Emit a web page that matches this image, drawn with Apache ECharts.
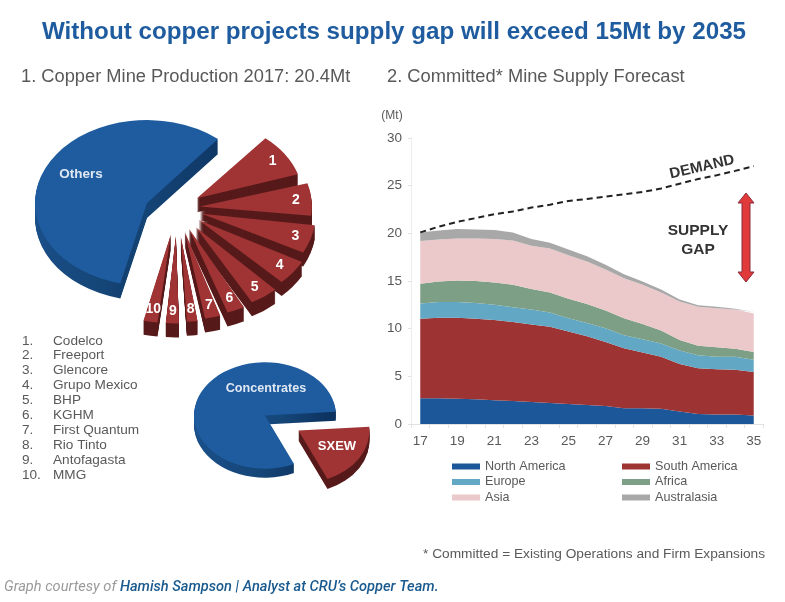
<!DOCTYPE html>
<html><head><meta charset="utf-8">
<style>html,body{margin:0;padding:0;background:#fff}#c{width:785px;height:602px}</style>
<script src="https://cdn.jsdelivr.net/npm/echarts@6/dist/echarts.min.js"></script>
</head><body><div id="c"></div>
<script>
const years = ['17','18','19','20','21','22','23','24','25','26','27','28','29','30','31','32','33','34','35'];
const northAmerica = [2.7,2.7,2.65,2.6,2.5,2.4,2.3,2.2,2.1,2.0,1.9,1.65,1.65,1.6,1.3,1.05,1.0,1.0,0.9];
const southAmerica = [8.35,8.45,8.5,8.45,8.4,8.3,8.15,8.0,7.6,7.2,6.7,6.3,5.85,5.45,5.0,4.8,4.75,4.7,4.55];
const europe = [1.6,1.65,1.65,1.65,1.6,1.55,1.55,1.5,1.4,1.4,1.45,1.35,1.4,1.4,1.4,1.35,1.3,1.35,1.3];
const africa = [2.05,2.15,2.25,2.3,2.35,2.35,2.15,2.1,2.05,2.0,1.85,1.8,1.6,1.35,1.1,1.0,1.0,0.85,0.8];
const asia = [4.5,4.4,4.4,4.45,4.55,4.65,4.55,4.6,4.55,4.45,4.3,4.2,4.1,4.0,4.05,4.1,4.1,4.1,4.05];
const australasia = [0.9,0.95,1.0,0.95,0.95,0.85,0.7,0.6,0.6,0.55,0.5,0.4,0.35,0.3,0.2,0.15,0.15,0.1,0.15];
const demand = [20.1,20.7,21.2,21.6,22.0,22.3,22.7,23.0,23.4,23.6,23.85,24.1,24.35,24.7,25.2,25.7,26.1,26.55,27.05];
const regionNames = ['North America','South America','Europe','Africa','Asia','Australasia'];
const regionColors = ['#1c5899','#9e3333','#62a8c5','#7d9f85','#ebc8c9','#a8a8a8'];
const producers = ['Codelco','Freeport','Glencore','Grupo Mexico','BHP','KGHM','First Quantum','Rio Tinto','Antofagasta','MMG'];
const producerShares = [9.3,6.7,5.8,5.0,4.4,2.8,2.5,1.9,2.2,2.3];
const othersShare = [57.1];
const processShares = [19.4,80.6];

const RAD = Math.PI/180;
const producerExplode = [24,23,26,27,32,30,33,39,38,36];
const producerRadius = [106,112,114,118,116,120,119,115,118,120];
const sliceTrim = 0.75*RAD;

function sector(cx,cy,r,a0,a1,ratio,dy,fill){
  return {type:'sector',x:cx,y:cy+dy,scaleY:ratio,silent:true,
    shape:{cx:0,cy:0,r:r,r0:0,startAngle:a0,endAngle:a1,clockwise:true},style:{fill:fill}};
}
function slice(cx,cy,r,a0,a1,ratio,depth,explode,top,side){
  const mid=(a0+a1)/2, x=cx+Math.cos(mid)*explode, y=cy+Math.sin(mid)*explode*ratio, kids=[];
  for(let d=depth;d>=1;d--) kids.push(sector(x,y,r,a0,a1,ratio,d,side));
  kids.push(sector(x,y,r,a0,a1,ratio,0,top));
  return {kids,x,y,mid};
}
const blueSide={type:'linear',x:0,y:0,x2:1,y2:0.3,colorStops:[{offset:0,color:'#1d5390'},{offset:.7,color:'#154678'},{offset:1,color:'#0d3360'}]};

const option={
  animation:false,
  grid:{left:411,right:22,top:138,bottom:178},
  xAxis:{type:'category',data:years,boundaryGap:true,
    axisLine:{lineStyle:{color:'#e2e2e2'}},axisTick:{show:true,alignWithLabel:false,interval:0,length:4,lineStyle:{color:'#e2e2e2'}},
    axisLabel:{interval:1,color:'#595959',fontFamily:'Liberation Sans',fontSize:13.5,margin:10}},
  yAxis:{type:'value',min:0,max:30,interval:5,splitLine:{show:false},
    axisLine:{show:true,lineStyle:{color:'#ececec'}},axisTick:{show:true,length:3,lineStyle:{color:'#e2e2e2'}},
    axisLabel:{color:'#595959',fontFamily:'Liberation Sans',fontSize:13.5,margin:9}},
  legend:[0,1].map(col=>({
    left:col?622:452,top:460,orient:'vertical',itemWidth:28,itemHeight:6,itemGap:2.5,padding:0,
    icon:'rect',data:regionNames.filter((n,i)=>i%2===col),selectedMode:false,
    textStyle:{color:'#595959',fontFamily:'Liberation Sans',fontSize:12.6,lineHeight:11,padding:[0,0,0,0]}})),
  series:[
    ...[northAmerica,southAmerica,europe,africa,asia,australasia].map((d,i)=>({
      name:regionNames[i],type:'line',stack:'supply',data:d,symbol:'none',smooth:false,
      lineStyle:{width:0},itemStyle:{color:regionColors[i]},areaStyle:{color:regionColors[i],opacity:1}})),
    {name:'Demand',type:'line',data:demand,symbol:'none',lineStyle:{color:'#222',width:2,type:[6,4]},z:5},
    {type:'custom',coordinateSystem:'none',data:producerShares.map(v=>[v]),silent:true,z:3,
      renderItem(params,api){
        const i=params.dataIndex; let a=-50.5*RAD;
        for(let k=0;k<i;k++) a+=producerShares[k]*3.6*RAD;
        const R=producerRadius[i];
        const s=slice(177,208,R,a+sliceTrim,a+api.value(0)*3.6*RAD-sliceTrim,0.74,14,producerExplode[i],'#a03434','#571a1a');
        const lr=R*0.86;
        s.kids.push({type:'text',silent:true,x:s.x+Math.cos(s.mid)*lr,y:s.y+Math.sin(s.mid)*lr*0.74,
          style:{text:String(i+1),fill:'#fff',font:'bold 14px "Liberation Sans"',textAlign:'center',textVerticalAlign:'middle'}});
        return {type:'group',children:s.kids};
      }},
    {type:'custom',coordinateSystem:'none',data:othersShare.map(v=>[v]),silent:true,z:2,
      renderItem(params,api){
        const a0=103.8*RAD, s=slice(147,203,112,a0,a0+api.value(0)*3.6*RAD,0.74,15,0,'#1f5c9f',blueSide);
        return {type:'group',children:s.kids};
      }},
    {type:'custom',coordinateSystem:'none',data:processShares.map(v=>[v]),silent:true,z:2,
      renderItem(params,api){
        const i=params.dataIndex, start=-4*RAD;
        const a0=i?start+processShares[0]*3.6*RAD:start, a1=a0+api.value(0)*3.6*RAD;
        const s=i?slice(265,415.5,71,a0,a1,0.75,9,0,'#1f5c9f',blueSide):slice(265,415.5,71,a0,a1,0.75,10,39,'#a03434','#571a1a');
        return {type:'group',children:s.kids};
      }}
  ],
  graphic:{elements:[]}
};
function txt(text,x,y,font,fill,align,extra){
  return Object.assign({type:'text',x:x,y:y,z:100,silent:true,style:{text:text,font:font,fill:fill,textAlign:align||'left',textVerticalAlign:'middle'}},extra||{});
}
const G=option.graphic.elements;
G.push(txt('Without copper projects supply gap will exceed 15Mt by 2035',394,32,'bold 24.2px "Liberation Sans"','#1f5c9f','center'));
G.push(txt('1. Copper Mine Production 2017: 20.4Mt',21,77,'18.3px "Liberation Sans"','#595959'));
G.push(txt('2. Committed* Mine Supply Forecast',387,77,'18.3px "Liberation Sans"','#595959'));
G.push(txt('(Mt)',392,116,'12px "Liberation Sans"','#595959','center'));
G.push(txt('Others',81,174,'bold 13.5px "Liberation Sans"','#dfe8f2','center'));
G.push(txt('Concentrates',266,389,'bold 12.6px "Liberation Sans"','#dfe8f2','center'));
G.push(txt('SXEW',337,446,'bold 13px "Liberation Sans"','#fff','center'));
G.push(txt('DEMAND',702,167,'bold 15px "Liberation Sans"','#333','center',{rotation:13*RAD}));
G.push(txt('SUPPLY',698,231,'bold 15.5px "Liberation Sans"','#333','center'));
G.push(txt('GAP',698,250,'bold 15.5px "Liberation Sans"','#333','center'));
G.push(txt('* Committed = Existing Operations and Firm Expansions',765,554,'13.7px "Liberation Sans"','#595959','right'));
G.push({type:'text',x:4,y:587,z:100,silent:true,style:{text:'{g|Graph courtesy of }{b|Hamish Sampson | Analyst at CRU\u2019s Copper Team.}',textVerticalAlign:'middle',
  rich:{g:{font:'italic 14.6px Roboto',fill:'#9a9a9a'},b:{font:'italic 500 14.6px Roboto',fill:'#1a5a8e'}}}});
const ys=[341,355,370,385,400,415,430,445,460,475];
producers.forEach((p,i)=>{
  G.push(txt((i+1)+'.',22,ys[i],'13.6px "Liberation Sans"','#595959'));
  G.push(txt(p,53,ys[i],'13.6px "Liberation Sans"','#595959'));
});
G.push({type:'polygon',z:99,silent:true,shape:{points:[[746,193],[754,203],[750,203],[750,272],[754,272],[746,282],[738,272],[742,272],[742,203],[738,203]]},
  style:{fill:'#e03a3a',stroke:'#8a2a3a',lineWidth:1}});
const chart=echarts.init(document.getElementById('c'),null,{renderer:'canvas'});
chart.setOption(option);
</script></body></html>
